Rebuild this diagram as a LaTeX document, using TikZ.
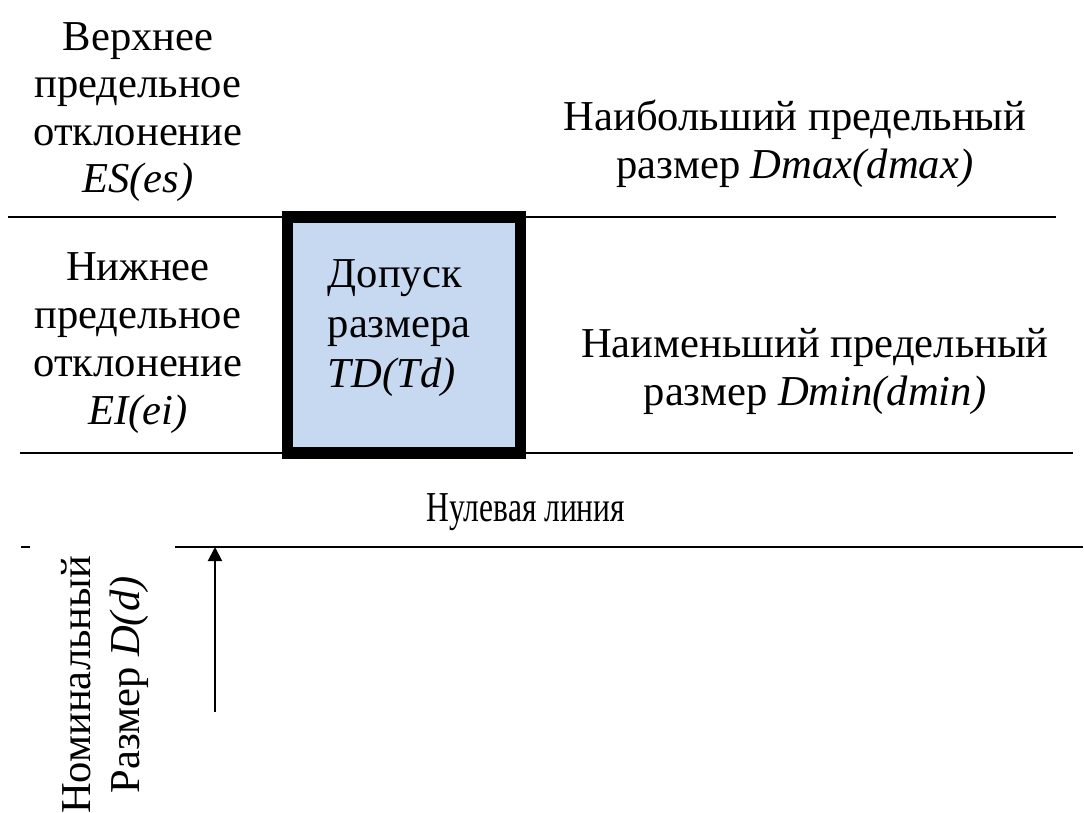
\documentclass[tikz,border=0pt]{standalone}
\usepackage{fontspec}
\setmainfont{Liberation Serif}
\usetikzlibrary{arrows.meta}
\definecolor{tolblue}{RGB}{198,217,241}
\begin{document}
\begin{tikzpicture}[x=0.5pt,y=-0.5pt,
  txt/.style={inner sep=0pt, font=\fontsize{21.3}{23.8}\selectfont, align=center},
  rule/.style={line width=1pt, draw=black},
  tolbox/.style={draw=black, fill=tolblue, line width=5.75pt, minimum width=116.5pt, minimum height=118pt, inner sep=0pt},
  tip/.style={-{Triangle[width=7pt,length=7pt]}}
]
\useasboundingbox (0,0) rectangle (1084,813);
% horizontal lines
\coordinate (l1a) at (8,217);   \coordinate (l1b) at (1056,217);
\coordinate (l2a) at (20,453);  \coordinate (l2b) at (1073,453);
\coordinate (l0a) at (175,547); \coordinate (l0b) at (1083,547);
\coordinate (d0a) at (21,547);  \coordinate (d0b) at (30,547);
\draw[rule] (l1a) -- (l1b);
\draw[rule] (l2a) -- (l2b);
\draw[rule] (l0a) -- (l0b);
\draw[rule] (d0a) -- (d0b);
% tolerance box
\node[tolbox] (box) at (404,335) {};
\node[txt, align=left, font=\fontsize{21.3}{24.8}\selectfont] (tol) at (399,328) {Допуск\\размера\\\textit{TD(Td)}};
% left texts
\node[txt] (es) at (138,112) {Верхнее\\предельное\\отклонение\\\textit{ES(es)}};
\node[txt, font=\fontsize{21.3}{24.1}\selectfont] (ei) at (138,343) {Нижнее\\предельное\\отклонение\\\textit{EI(ei)}};
% right texts
\node[txt, font=\fontsize{21.3}{24}\selectfont] (dmax) at (795,144) {Наибольший предельный\\размер \textit{Dmax(dmax)}};
\node[txt, font=\fontsize{21.3}{24}\selectfont] (dmin) at (815,371) {Наименьший предельный\\размер \textit{Dmin(dmin)}};
% zero line label
\node[txt, anchor=base] (zero) at (526,522) {\scalebox{0.74}[1]{Нулевая линия}};
% nominal size
\node[txt, rotate=90, font=\fontsize{21.3}{24.5}\selectfont] (nom) at (105,685) {Номинальный\\Размер \textit{D(d)}};
\coordinate (arrS) at (215,712);
\coordinate (arrE) at (215,547);
\draw[rule, tip] (arrS) -- (arrE);
\end{tikzpicture}
\end{document}
